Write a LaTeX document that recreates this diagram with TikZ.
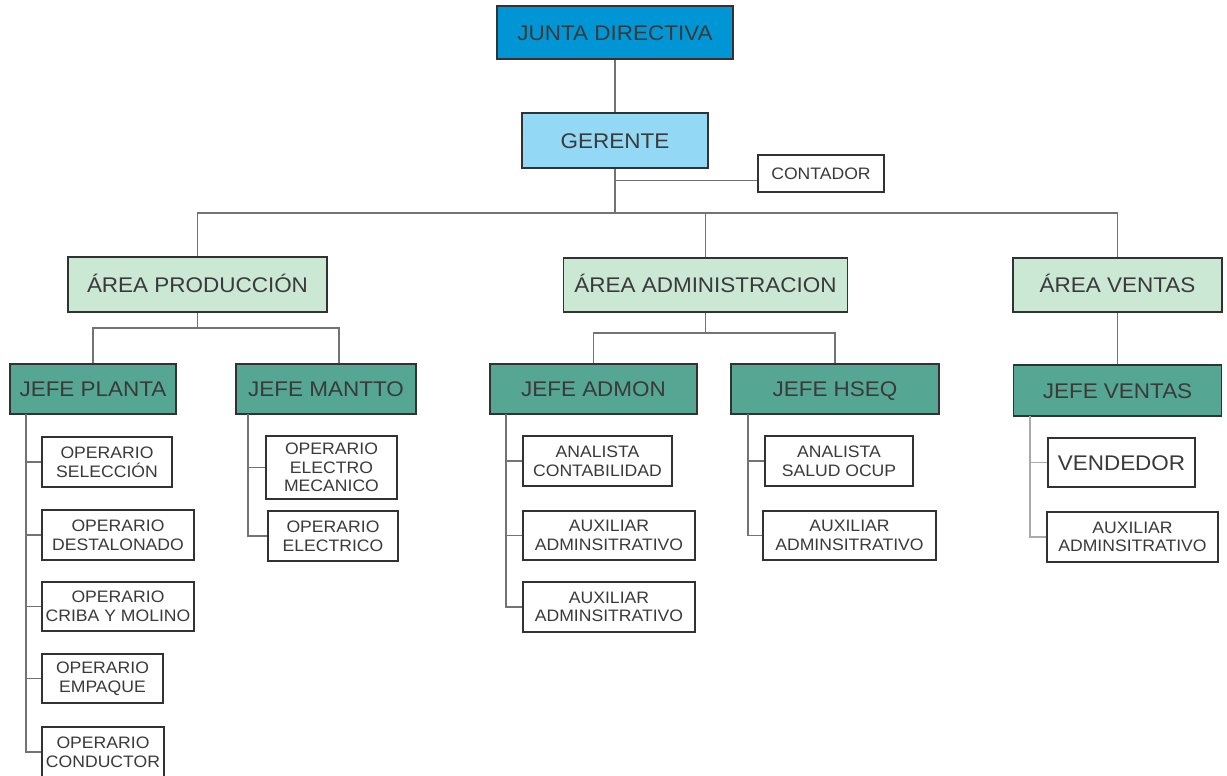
\documentclass[tikz,border=0pt]{standalone}
\usepackage{fontspec}
\setmainfont{Liberation Sans}[FakeStretch=1.06]
\definecolor{jdblue}{RGB}{0,150,214}
\definecolor{gerblue}{RGB}{147,216,245}
\definecolor{areagreen}{RGB}{202,232,212}
\definecolor{jefeteal}{RGB}{86,166,148}
\definecolor{txtgray}{RGB}{58,58,58}
\definecolor{bordergray}{RGB}{50,50,50}
\definecolor{linegray}{RGB}{115,115,115}
\definecolor{lightline}{RGB}{170,170,170}
\tikzset{
  box/.style={draw=bordergray, line width=1.8pt, inner sep=0pt, align=center, text=txtgray},
  bigtxt/.style={box, font=\fontsize{21.2}{24}\selectfont, text height=15.2pt, text depth=0pt},
  smalltxt/.style={box, fill=white, font=\fontsize{16.6}{18.6}\selectfont},
  conn/.style={draw=linegray, line width=1.3pt},
  lconn/.style={draw=lightline, line width=1.3pt},
}
\begin{document}
\begin{tikzpicture}[x=1pt,y=-1pt]
\useasboundingbox (0,0) rectangle (1227,776);
% top
\node[bigtxt, fill=jdblue, minimum width=236pt, minimum height=53pt] (jd) at (615,32.5) {JUNTA DIRECTIVA};
\node[bigtxt, fill=gerblue, minimum width=186pt, minimum height=55pt] (ger) at (615,140.5) {GERENTE};
\node[smalltxt, minimum width=126pt, minimum height=37pt] (cont) at (821,173.5) {CONTADOR};
% areas
\node[bigtxt, fill=areagreen, minimum width=259pt, minimum height=55pt] (ap) at (197.5,284.5) {ÁREA PRODUCCIÓN};
\node[bigtxt, fill=areagreen, minimum width=284pt, minimum height=54pt] (aa) at (705.5,285) {ÁREA ADMINISTRACION};
\node[bigtxt, fill=areagreen, minimum width=209pt, minimum height=54pt] (av) at (1117.5,285) {ÁREA VENTAS};
% jefes
\node[bigtxt, fill=jefeteal, minimum width=166pt, minimum height=50pt] (jp) at (93,389) {JEFE PLANTA};
\node[bigtxt, fill=jefeteal, minimum width=180pt, minimum height=50pt] (jm) at (326,389) {JEFE MANTTO};
\node[bigtxt, fill=jefeteal, minimum width=207pt, minimum height=50pt] (ja) at (593.5,389) {JEFE ADMON};
\node[bigtxt, fill=jefeteal, minimum width=208pt, minimum height=50pt] (jh) at (835,389) {JEFE HSEQ};
\node[bigtxt, fill=jefeteal, minimum width=208pt, minimum height=51pt] (jv) at (1117.5,390.5) {JEFE VENTAS};
% planta children
\node[smalltxt, minimum width=130pt, minimum height=50pt] (s1) at (107,462) {OPERARIO\\SELECCIÓN};
\node[smalltxt, minimum width=152pt, minimum height=50pt] (s2) at (118,535) {OPERARIO\\DESTALONADO};
\node[smalltxt, minimum width=152pt, minimum height=49pt] (s3) at (118,606.5) {OPERARIO\\CRIBA Y MOLINO};
\node[smalltxt, minimum width=121pt, minimum height=49pt] (s4) at (102.5,678.5) {OPERARIO\\EMPAQUE};
\node[smalltxt, minimum width=122pt, minimum height=50pt] (s5) at (103,752) {OPERARIO\\CONDUCTOR};
% mantto children
\node[smalltxt, minimum width=131pt, minimum height=63pt] (m1) at (331.5,467.5) {OPERARIO\\ELECTRO\\MECANICO};
\node[smalltxt, minimum width=130pt, minimum height=50pt] (m2) at (333,536) {OPERARIO\\ELECTRICO};
% admon children
\node[smalltxt, minimum width=149pt, minimum height=50pt] (a1) at (597.5,461) {ANALISTA\\CONTABILIDAD};
\node[smalltxt, minimum width=172pt, minimum height=49pt] (a2) at (609,535.5) {AUXILIAR\\ADMINSITRATIVO};
\node[smalltxt, minimum width=172pt, minimum height=50pt] (a3) at (609,607) {AUXILIAR\\ADMINSITRATIVO};
% hseq children
\node[smalltxt, minimum width=148pt, minimum height=50pt] (h1) at (839,461) {ANALISTA\\SALUD OCUP};
\node[smalltxt, minimum width=173pt, minimum height=49pt] (h2) at (849.5,535.5) {AUXILIAR\\ADMINSITRATIVO};
% ventas children
\node[bigtxt, fill=white, minimum width=147pt, minimum height=49pt] (v1) at (1121.5,462.5) {VENDEDOR};
\node[smalltxt, minimum width=171pt, minimum height=50pt] (v2) at (1132.5,537) {AUXILIAR\\ADMINSITRATIVO};
% coordinates
\coordinate (b0) at (615,213);
\coordinate (pb) at (197.5,328);
\coordinate (ab) at (705.5,333);
\coordinate (tp) at (26,414);
\coordinate (tm) at (248,414);
\coordinate (ta) at (506,414);
\coordinate (th) at (748,414);
\coordinate (tv) at (1030,416);
% connectors
\draw[conn] (jd.south) -- (ger.north);
\draw[conn] (ger.south) -- (b0);
\draw[conn] ([yshift=-7pt]cont.west) -- ([yshift=-7pt]cont.west -| ger.south);
\draw[conn] (ap.north) |- (b0) -| (av.north);
\draw[conn] (aa.north) -- (aa.north |- b0);
\draw[conn] (ap.south) -- (pb);
\draw[conn] (jp.north) |- (pb) -| ([xshift=13pt]jm.north);
\draw[conn] (aa.south) -- (ab);
\draw[conn] (ja.north) |- (ab) -| (jh.north);
\draw[conn] (av.south) -- (jv.north);
\draw[conn] (tp) |- (s1.west);
\draw[conn] (tp) |- (s2.west);
\draw[conn] (tp) |- (s3.west);
\draw[conn] (tp) |- (s4.west);
\draw[conn] (tp) |- (s5.west);
\draw[conn] (tm) |- (m1.west);
\draw[conn] (tm) |- (m2.west);
\draw[conn] (ta) |- (a1.west);
\draw[conn] (ta) |- (a2.west);
\draw[conn] (ta) |- (a3.west);
\draw[conn] (th) |- (h1.west);
\draw[conn] (th) |- (h2.west);
\draw[lconn] (tv) |- (v1.west);
\draw[lconn] (tv) |- (v2.west);
\end{tikzpicture}
\end{document}
